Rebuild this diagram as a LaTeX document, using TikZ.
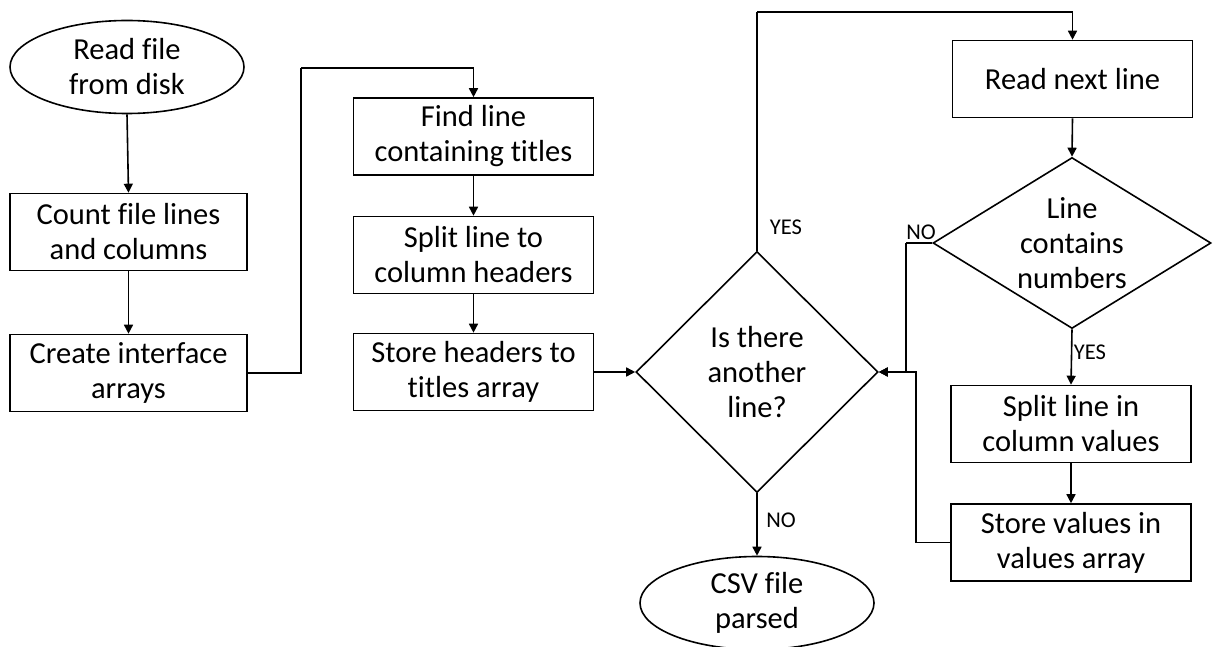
\documentclass[tikz,border=0pt]{standalone}
\usepackage{fontspec}
\setmainfont{Carlito}[Ligatures=NoCommon]
\usetikzlibrary{shapes.geometric,arrows.meta}
\begin{document}
\begin{tikzpicture}[x=1pt,y=-1pt,
  every node/.style={font=\fontsize{30.5}{35}\selectfont},
  box/.style={draw, line width=1.6pt, minimum width=240pt, minimum height=77pt, align=center, inner sep=0pt},
  term/.style={draw, ellipse, line width=1.6pt, minimum width=234pt, minimum height=93pt, inner sep=0pt},
  dec/.style={draw, diamond, line width=1.6pt, inner sep=0pt},
  arr/.style={line width=1.6pt, -{Triangle[length=9pt,width=9pt]}},
  conn/.style={line width=1.6pt},
  small/.style={font=\fontsize{22.5}{26}\selectfont, inner sep=0pt}
]
\fill[white] (0,0) rectangle (1216,647);
\useasboundingbox (0,0) rectangle (1216,647);

\node[term, label={[align=center]center:Read file\\from disk}] (start) at (127,67) {};
\node[box, minimum width=237pt] (count) at (128.5,232) {Count file lines\\and columns};
\node[box, minimum width=237pt] (create) at (128.5,373) {Create interface\\arrays};

\node[box] (find) at (473.5,136.5) {Find line\\containing titles};
\node[box] (split) at (473.5,255) {Split line to\\column headers};
\node[box] (storeh) at (473.5,372) {Store headers to\\titles array};

\node[dec, minimum width=242pt, minimum height=241pt, label={[align=center]center:Is there\\another\\line?}] (dec1) at (757,372) {};
\node[term, label={[align=center]center:CSV file\\parsed}] (endn) at (757,603) {};

\node[box] (readnext) at (1072.5,79) {Read next line};
\node[dec, minimum width=278pt, minimum height=171pt, label={[align=center]center:Line\\contains\\numbers}] (dec2) at (1072,243) {};
\node[box] (splitv) at (1071,424) {Split line in\\column values};
\node[box] (storev) at (1071,542.5) {Store values in\\values array};

\coordinate (c1) at (301,68);
\coordinate (c2) at (757,12);
\coordinate (c3) at (906,243);
\coordinate (c4) at (916,542.5);

\draw[arr] (start.south) -- (count.north);
\draw[arr] (count.south) -- (create.north);
\draw[conn] (create.east) -| (c1);
\draw[arr] (c1) -| (find.north);
\draw[arr] (find.south) -- (split.north);
\draw[arr] (split.south) -- (storeh.north);
\draw[arr] (storeh.east) -- (dec1.west);
\draw[conn] (dec1.north) -- (c2);
\draw[arr] (c2) -| (readnext.north);
\draw[arr] (readnext.south) -- (dec2.north);
\draw[conn] (dec2.west) -- (c3);
\draw[arr] (c3) |- (dec1.east);
\draw[arr] (dec2.south) -- (splitv.north);
\draw[arr] (splitv.south) -- (storev.north);
\draw[conn] (storev.west) -- (c4);
\draw[arr] (c4) |- (dec1.east);
\draw[arr] (dec1.south) -- (endn.north);

\node[small] (lyes1) at (786,227) {YES};
\node[small] (lno1) at (921,232.5) {NO};
\node[small] (lyes2) at (1090,352) {YES};
\node[small] (lno2) at (781,520) {NO};
\end{tikzpicture}
\end{document}
